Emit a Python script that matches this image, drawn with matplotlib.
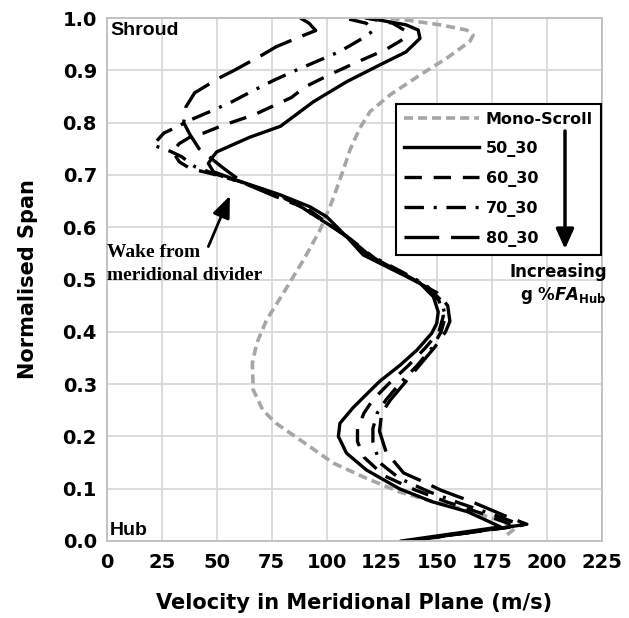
import matplotlib
matplotlib.use("Agg")
import matplotlib.pyplot as plt

plt.rcParams["lines.scale_dashes"] = False
plt.rcParams["font.family"] = ["DejaVu Sans"]
plt.rcParams["mathtext.fontset"] = "dejavusans"

# Meridional velocity (m/s) against normalised span, hub (0) to shroud (1)
mono_v = [182, 186, 178, 163, 148.5, 133, 118, 103, 88, 77, 71, 66.6, 66.2, 68.2, 72.7,
          80.3, 89.4, 97, 102.5, 107.5, 110.6, 115, 119.7, 128.8, 142.4, 154.5, 165,
          166.6, 163.6, 151.5, 136.4, 127]
mono_s = [0.012, 0.025, 0.04, 0.06, 0.075, 0.094, 0.12, 0.149, 0.193, 0.225, 0.25, 0.289,
          0.34, 0.378, 0.423, 0.474, 0.537, 0.595, 0.65, 0.709, 0.748, 0.789, 0.821, 0.853,
          0.891, 0.923, 0.955, 0.967, 0.977, 0.987, 0.996, 1.0]

v_50 = [134, 179, 164, 148, 133, 118, 109, 105.3, 106, 112, 124, 133.3, 141, 147.7, 150,
        150.7, 148.5, 142.4, 131.8, 116.6, 109, 100, 92.4, 78.8, 59, 48.5, 46.2, 48.5, 50,
        65, 79, 94, 109, 124, 136, 142.4, 141.6, 136, 124, 118]
s_50 = [0.0, 0.027, 0.056, 0.075, 0.10, 0.136, 0.168, 0.20, 0.225, 0.255, 0.305, 0.336,
        0.365, 0.397, 0.416, 0.438, 0.467, 0.493, 0.515, 0.547, 0.582, 0.62, 0.639, 0.662,
        0.69, 0.706, 0.722, 0.736, 0.744, 0.772, 0.793, 0.84, 0.878, 0.91, 0.935, 0.961,
        0.977, 0.987, 0.996, 1.0]

v_60 = [136, 186, 171, 155, 140, 126, 117, 114, 114, 117, 121, 128, 137, 145, 151, 153,
        151, 144, 133, 118, 108, 98, 88, 76, 60, 47, 38, 33, 30, 33, 39, 44, 53, 67, 84,
        90, 102, 114, 127, 135, 136, 130, 118]
s_60 = [0.0, 0.028, 0.052, 0.074, 0.098, 0.125, 0.16, 0.19, 0.215, 0.245, 0.27, 0.30,
        0.335, 0.37, 0.40, 0.43, 0.46, 0.49, 0.515, 0.548, 0.585, 0.615, 0.645, 0.665,
        0.688, 0.703, 0.712, 0.725, 0.745, 0.76, 0.775, 0.78, 0.795, 0.815, 0.848, 0.868,
        0.893, 0.916, 0.94, 0.96, 0.975, 0.99, 1.0]

v_70 = [137, 189, 176, 160, 146, 133, 124, 121, 121, 123, 127, 133, 141, 148, 152, 154,
        152, 145, 134, 119, 107, 97, 86, 74, 58, 47, 40, 34, 29, 21, 26, 31, 38, 48, 57,
        67, 76, 86, 96, 106, 115, 121, 118, 110, 106]
s_70 = [0.0, 0.03, 0.05, 0.073, 0.095, 0.12, 0.15, 0.19, 0.215, 0.245, 0.27, 0.30, 0.335,
        0.37, 0.40, 0.43, 0.46, 0.49, 0.515, 0.548, 0.59, 0.615, 0.645, 0.668, 0.69, 0.705,
        0.716, 0.735, 0.745, 0.757, 0.78, 0.79, 0.805, 0.823, 0.84, 0.862, 0.881, 0.90,
        0.918, 0.936, 0.958, 0.975, 0.99, 0.998, 1.0]

v_80 = [138, 191, 180, 166, 152, 143, 135, 127, 124, 125, 129, 135, 142, 149, 154, 156,
        155, 150, 139, 122, 110, 99, 88, 76, 62, 53, 42, 38, 35, 36, 40, 51, 58, 71, 77,
        89, 95, 92, 88]
s_80 = [0.0, 0.032, 0.05, 0.075, 0.097, 0.115, 0.13, 0.17, 0.21, 0.245, 0.27, 0.30, 0.335,
        0.37, 0.40, 0.42, 0.45, 0.475, 0.50, 0.54, 0.58, 0.61, 0.64, 0.66, 0.685, 0.713,
        0.75, 0.776, 0.80, 0.83, 0.857, 0.885, 0.90, 0.93, 0.945, 0.966, 0.976, 0.99, 1.0]

labels = ["Mono-Scroll", "50_30", "60_30", "70_30", "80_30"]
x_ticks = [0, 25, 50, 75, 100, 125, 150, 175, 200, 225]
y_ticks = [0.0, 0.1, 0.2, 0.3, 0.4, 0.5, 0.6, 0.7, 0.8, 0.9, 1.0]

W, H = 629, 618
fig = plt.figure(figsize=(W / 100, H / 100), dpi=100)
ax = fig.add_axes([106.7 / W, 1 - 541 / H, 495 / W, 523 / H])

lw_k = 2.4
common = dict(solid_joinstyle="round", dash_joinstyle="round", dash_capstyle="butt")
h_mono, = ax.plot(mono_v, mono_s, color="#a6a6a6", lw=2.6, dashes=(6.5, 3.6), **common)
h50, = ax.plot(v_50, s_50, color="black", lw=lw_k, **common)
h60, = ax.plot(v_60, s_60, color="black", lw=lw_k, dashes=(12.5, 8.5), **common)
h70, = ax.plot(v_70, s_70, color="black", lw=lw_k, dashes=(14, 7, 2.2, 7), **common)
h80, = ax.plot(v_80, s_80, color="black", lw=lw_k, dashes=(25, 8.5), **common)

ax.set_xlim(0, 225)
ax.set_ylim(0, 1.0)
ax.set_xticks(x_ticks)
ax.set_yticks(y_ticks)
ax.set_xticklabels([str(t) for t in x_ticks], fontsize=14, fontweight="bold")
ax.set_yticklabels([f"{t:.1f}" for t in y_ticks], fontsize=14, fontweight="bold")
ax.tick_params(length=0, pad=7)
ax.tick_params(axis="x", pad=9)
ax.grid(True, color="#d9d9d9", lw=1.3)
ax.set_axisbelow(True)
for sp in ax.spines.values():
    sp.set_color("#bfbfbf")
    sp.set_linewidth(1.3)

ax.set_xlabel("Velocity in Meridional Plane (m/s)", fontsize=15, fontweight="bold", labelpad=15)
ax.set_ylabel("Normalised Span", fontsize=15, fontweight="bold", labelpad=18)

ax.text(1.5, 0.967, "Shroud", fontsize=14, fontweight="bold", family="Liberation Sans",
        va="baseline", ha="left")
ax.text(1.5, 0.0115, "Hub", fontsize=14, fontweight="bold", family="Liberation Sans",
        va="baseline", ha="left")

ax.text(0.2, 0.543, "Wake from", fontsize=14, fontweight="bold", family="Liberation Serif",
        va="baseline", ha="left")
ax.text(0.2, 0.499, "meridional divider", fontsize=14, fontweight="bold",
        family="Liberation Serif", va="baseline", ha="left")
ax.annotate("", xy=(56, 0.66), xytext=(46.2, 0.563),
            arrowprops=dict(arrowstyle="-|>,head_width=0.45,head_length=1.1", lw=2,
                            color="black", mutation_scale=12, shrinkA=0, shrinkB=0))

leg = ax.legend([h_mono, h50, h60, h70, h80], labels, loc="upper left",
                bbox_to_anchor=(395.7 / W, 1 - 104 / H), bbox_transform=fig.transFigure,
                prop=dict(size=11.5, weight="bold"), handlelength=4.7, handletextpad=0.45,
                labelspacing=0.87, borderpad=0.5, borderaxespad=0, frameon=True,
                fancybox=False, framealpha=1, edgecolor="black")
leg.get_frame().set_linewidth(1.5)

fig.add_artist(matplotlib.patches.FancyArrowPatch(
    (565 / W, 1 - 131 / H), (565 / W, 1 - 249 / H), transform=fig.transFigure,
    arrowstyle="-|>,head_width=0.45,head_length=1.0", mutation_scale=12, lw=2.5,
    color="black", shrinkA=0, shrinkB=0))

fig.text(607 / W, 1 - 277 / H, "Increasing", fontsize=12, fontweight="bold",
         ha="right", va="baseline")
fig.text(607 / W, 1 - 300 / H, r"g %$\mathbfit{FA}_{\mathbf{Hub}}$", fontsize=12,
         fontweight="bold", ha="right", va="baseline")

fig.savefig("out.png", dpi=100)
